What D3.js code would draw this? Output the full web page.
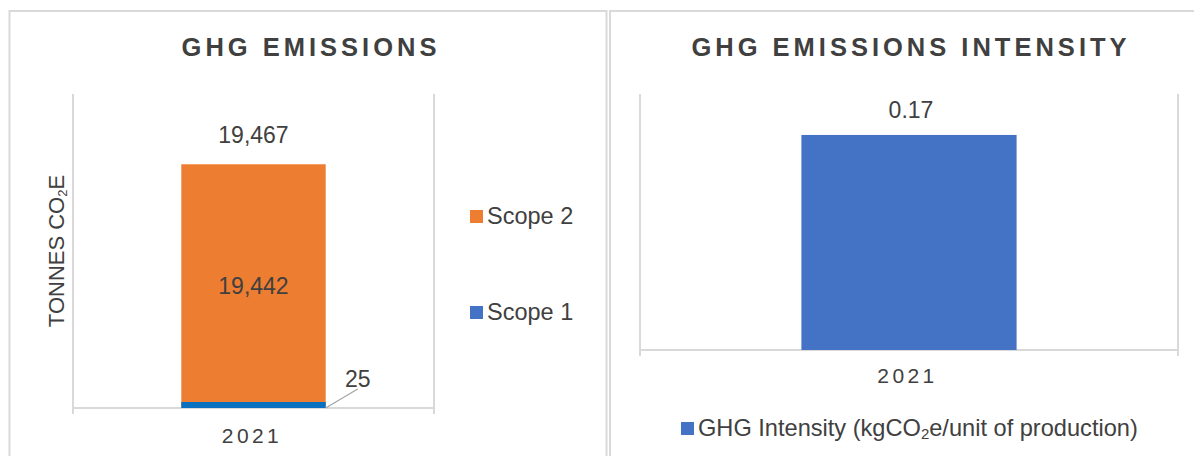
<!DOCTYPE html>
<html>
<head>
<meta charset="utf-8">
<script src="https://cdn.jsdelivr.net/npm/d3@7"></script>
<style>
    body { margin: 0; background: #fff; font-family: "Liberation Sans", Arial, sans-serif; }
</style>
</head>
<body>
<script>
// data
const years = ["2021"];
const scope1 = [25];
const scope2 = [19442];
const intensity = [0.17];
const emissionsTicks = [0, 25000];
const intensityTicks = [0, 0.2];

const textColor = "#404040";
const gridColor = "#d9d9d9";

const svg = d3.select("body").append("svg")
    .attr("width", 1194)
    .attr("height", 456);

// the 2 panel borders
svg.append("rect").attr("x", 9.5).attr("y", 11).attr("width", 597).attr("height", 460)
    .attr("fill", "none").attr("stroke", gridColor).attr("stroke-width", 2);
svg.append("rect").attr("x", 610).attr("y", 11).attr("width", 600).attr("height", 460)
    .attr("fill", "none").attr("stroke", gridColor).attr("stroke-width", 2);

function addTitle(x, txt) {
    svg.append("text")
        .attr("x", x).attr("y", 56)
        .attr("text-anchor", "middle")
        .attr("font-size", 25.5).attr("font-weight", "bold")
        .attr("letter-spacing", 4)
        .attr("fill", textColor)
        .text(txt);
}

// draws the frame of a plot : 2 vertical lines + baseline
function addFrame(x0, x1, yTop, yBase) {
    [x0, x1].forEach(function(x) {
        svg.append("line").attr("x1", x).attr("x2", x).attr("y1", yTop).attr("y2", yBase + 6)
            .attr("stroke", gridColor).attr("stroke-width", 2);
    });
    svg.append("line").attr("x1", x0).attr("x2", x1).attr("y1", yBase).attr("y2", yBase)
        .attr("stroke", gridColor).attr("stroke-width", 2);
}

function addYearLabel(x, y, txt) {
    svg.append("text")
        .attr("x", x + 1.5).attr("y", y)
        .attr("text-anchor", "middle")
        .attr("font-size", 21).attr("letter-spacing", 3.4)
        .attr("fill", textColor)
        .text(txt);
}

// ---------- left chart : GHG emissions ----------
addTitle(311, "GHG EMISSIONS");

const xL = d3.scaleBand().domain(years).range([73, 434]).padding(0.4286);
const yL = d3.scaleLinear().domain(d3.extent(emissionsTicks)).range([408, 95]);

addFrame(73, 434, 94, 408);

// scope 2 stacked on scope 1
svg.selectAll(".s2").data(years).enter().append("rect")
    .attr("x", d => xL(d))
    .attr("width", xL.bandwidth())
    .attr("y", (d, i) => yL(scope1[i] + scope2[i]))
    .attr("height", (d, i) => yL(scope1[i]) - yL(scope1[i] + scope2[i]))
    .attr("fill", "#ED7D31");

// scope 1 is tiny, keep it visible like the original
svg.selectAll(".s1").data(years).enter().append("rect")
    .attr("x", d => xL(d))
    .attr("width", xL.bandwidth())
    .attr("y", (d, i) => yL(0) - Math.max(6, yL(0) - yL(scope1[i])))
    .attr("height", (d, i) => Math.max(6, yL(0) - yL(scope1[i])))
    .attr("fill", "#0A70C0");

const fmt = d3.format(",");

// total on top
svg.selectAll(".tot").data(years).enter().append("text")
    .attr("x", d => xL(d) + xL.bandwidth() / 2)
    .attr("y", (d, i) => yL(scope1[i] + scope2[i]) - 21)
    .attr("text-anchor", "middle").attr("font-size", 23).attr("fill", textColor)
    .text((d, i) => fmt(scope1[i] + scope2[i]));

// scope 2 label, centered in the bar
svg.selectAll(".lab2").data(years).enter().append("text")
    .attr("x", d => xL(d) + xL.bandwidth() / 2)
    .attr("y", (d, i) => yL(scope1[i] + scope2[i] / 2) + 8)
    .attr("text-anchor", "middle").attr("font-size", 23).attr("fill", textColor)
    .text((d, i) => fmt(scope2[i]));

// scope 1 label with leader line
years.forEach(function(d, i) {
    const xe = xL(d) + xL.bandwidth();
    svg.append("line")
        .attr("x1", xe).attr("y1", yL(0))
        .attr("x2", xe + 32).attr("y2", yL(0) - 19)
        .attr("stroke", "#a6a6a6").attr("stroke-width", 1.3);
    svg.append("text")
        .attr("x", xe + 32).attr("y", yL(0) - 21)
        .attr("text-anchor", "middle").attr("font-size", 23).attr("fill", textColor)
        .text(fmt(scope1[i]));
});

years.forEach(function(d) {
    addYearLabel(xL(d) + xL.bandwidth() / 2 - 3, 443, d);
});

// y axis title with subscript
const yTitle = svg.append("text")
    .attr("transform", "translate(64," + 251 + ") rotate(-90)")
    .attr("text-anchor", "middle")
    .attr("font-size", 22).attr("fill", textColor);
yTitle.append("tspan").text("TONNES CO");
yTitle.append("tspan").attr("font-size", 13).attr("dy", 3).text("2");
yTitle.append("tspan").attr("dy", -3).text("E");

// legend left
const legendL = [
    { name: "Scope 2", color: "#ED7D31", y: 210 },
    { name: "Scope 1", color: "#4472C4", y: 306 }
];
const lg = svg.selectAll(".lgL").data(legendL).enter().append("g");
lg.append("rect")
    .attr("x", 470).attr("y", d => d.y)
    .attr("width", 13).attr("height", 13)
    .attr("fill", d => d.color);
lg.append("text")
    .attr("x", 487).attr("y", d => d.y + 14)
    .attr("font-size", 23.5).attr("fill", textColor)
    .text(d => d.name);

// ---------- right chart : GHG emissions intensity ----------
addTitle(911, "GHG EMISSIONS INTENSITY");

const xR = d3.scaleBand().domain(years).range([640, 1178]).padding(0.4286);
const yR = d3.scaleLinear().domain(d3.extent(intensityTicks)).range([350, 97]);

addFrame(640, 1178, 94, 350);

svg.selectAll(".int").data(years).enter().append("rect")
    .attr("x", d => xR(d))
    .attr("width", xR.bandwidth())
    .attr("y", (d, i) => yR(intensity[i]))
    .attr("height", (d, i) => yR(0) - yR(intensity[i]))
    .attr("fill", "#4472C4");

svg.selectAll(".intLab").data(years).enter().append("text")
    .attr("x", d => xR(d) + xR.bandwidth() / 2 + 2)
    .attr("y", (d, i) => yR(intensity[i]) - 17)
    .attr("text-anchor", "middle").attr("font-size", 23).attr("fill", textColor)
    .text((d, i) => intensity[i].toFixed(2));

years.forEach(function(d) {
    addYearLabel(xR(d) + xR.bandwidth() / 2 - 3, 383, d);
});

// legend right
svg.append("rect").attr("x", 681).attr("y", 422).attr("width", 13).attr("height", 13).attr("fill", "#4472C4");
const lgR = svg.append("text").attr("x", 698).attr("y", 436).attr("font-size", 23.6).attr("fill", textColor);
lgR.append("tspan").text("GHG Intensity (kgCO");
lgR.append("tspan").attr("font-size", 15).attr("dy", 3).text("2");
lgR.append("tspan").attr("dy", -3).text("e/unit of production)");
</script>
</body>
</html>
